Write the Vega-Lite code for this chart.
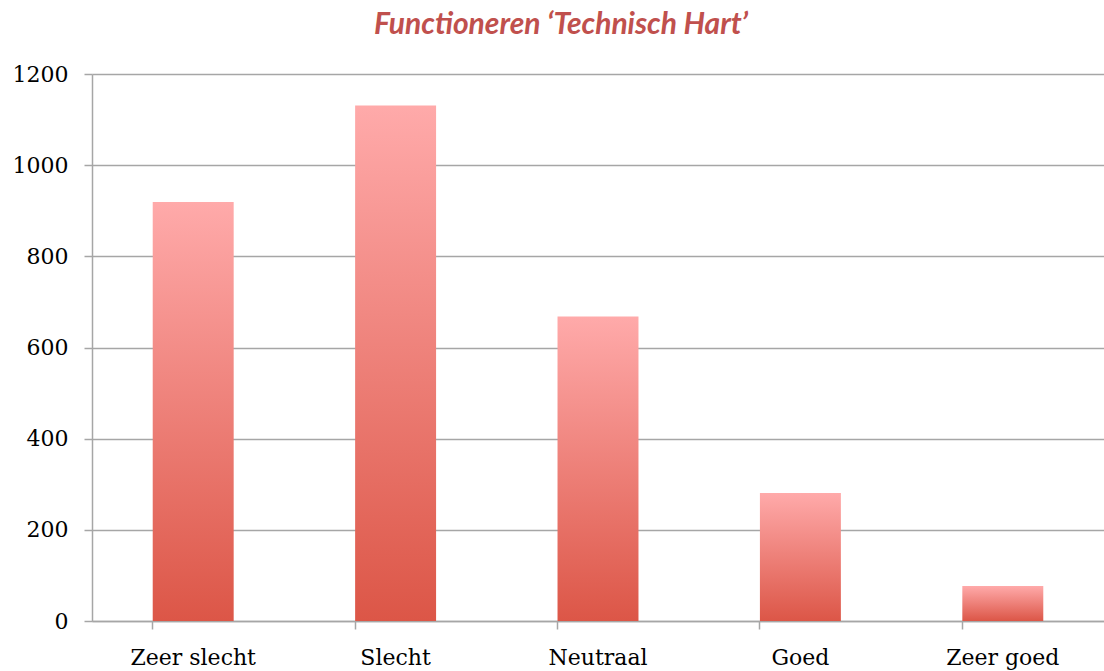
{
  "$schema": "https://vega.github.io/schema/vega-lite/v6.json",
  "width": 1012,
  "height": 547,
  "autosize": {"type": "none"},
  "padding": {"left": 92, "top": 74, "right": 0, "bottom": 50},
  "background": "white",
  "title": {
    "text": "Functioneren ‘Technisch Hart’",
    "font": "Lato",
    "fontSize": 30,
    "fontWeight": "bold",
    "fontStyle": "italic",
    "color": "#C0504D",
    "anchor": "middle",
    "frame": "group",
    "dx": -37,
    "offset": 23
  },
  "data": {
    "values": [
      {"categorie": "Zeer slecht", "aantal": 919},
      {"categorie": "Slecht", "aantal": 1131},
      {"categorie": "Neutraal", "aantal": 668},
      {"categorie": "Goed", "aantal": 281},
      {"categorie": "Zeer goed", "aantal": 77}
    ]
  },
  "mark": {
    "type": "bar",
    "color": {
      "gradient": "linear",
      "x1": 0, "y1": 0, "x2": 0, "y2": 1,
      "stops": [
        {"offset": 0, "color": "#FFAAAA"},
        {"offset": 1, "color": "#DC5647"}
      ]
    }
  },
  "encoding": {
    "x": {
      "field": "categorie",
      "type": "nominal",
      "sort": null,
      "scale": {"paddingInner": 0.6, "paddingOuter": 0.3},
      "axis": {
        "title": null,
        "labelAngle": 0,
        "labelFont": "DejaVu Serif",
        "labelFontSize": 22,
        "labelColor": "#000000",
        "labelPadding": 18,
        "bandPosition": 0,
        "tickSize": 8,
        "tickColor": "#A6A6A6",
        "tickWidth": 1.5,
        "domainColor": "#A6A6A6",
        "domainWidth": 1.5,
        "grid": false
      }
    },
    "y": {
      "field": "aantal",
      "type": "quantitative",
      "scale": {"domain": [0, 1200], "nice": false},
      "axis": {
        "title": null,
        "format": "d",
        "values": [0, 200, 400, 600, 800, 1000, 1200],
        "labelFont": "DejaVu Serif",
        "labelFontSize": 22,
        "labelColor": "#000000",
        "labelPadding": 16,
        "tickSize": 8,
        "tickColor": "#A6A6A6",
        "tickWidth": 1.5,
        "domainColor": "#A6A6A6",
        "domainWidth": 1.5,
        "grid": true,
        "gridColor": "#A6A6A6",
        "gridWidth": 1.5
      }
    }
  },
  "config": {"view": {"stroke": null}}
}
